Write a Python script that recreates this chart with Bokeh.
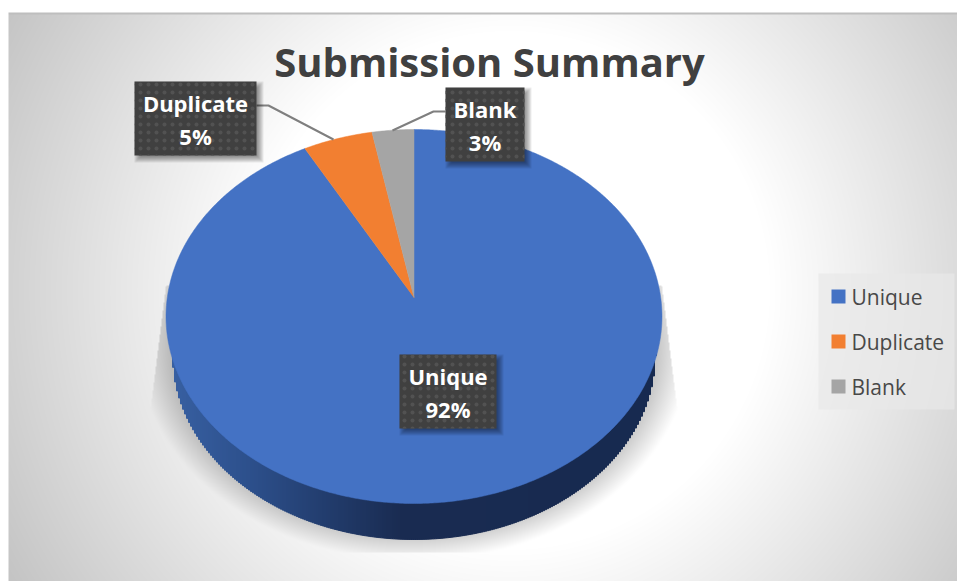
import numpy as np
from bokeh.embed import file_html
from bokeh.models import ColumnDataSource, Range1d
from bokeh.plotting import figure
from bokeh.resources import INLINE
from bokeh.core.properties import value

# Chart contents
title_text = "Submission Summary"
categories = ["Unique", "Duplicate", "Blank"]
shares = [92, 5, 3]
slice_colors = ["#4472c4", "#f27f31", "#a5a5a5"]

W, H = 957, 581
FONT = "Open Sans"

p = figure(width=W, height=H, x_range=Range1d(0, W), y_range=Range1d(H, 0),
           output_backend="svg", toolbar_location=None,
           x_axis_type=None, y_axis_type=None, min_border=0,
           outline_line_color=None, background_fill_color="white",
           border_fill_color="white")
p.grid.visible = False


def backdrop():
    """Radial grey panel with the soft shadow under the disc."""
    yy, xx = np.mgrid[0:H, 0:W]
    xx = xx + 0.5
    yy = yy + 0.5
    d = np.hypot(xx - 510, yy - 290)
    grey = 255 - np.clip(d - 260, 0, None) * 0.185

    # shadow: a soft ellipse cut by two slanted edges and a floor
    rho = np.hypot((xx - 413.5) / 276, (yy - 345) / 215)
    a = np.clip((1 - rho) / 0.12, 0, 1)
    left = 165 - (yy - 290) * 0.125
    right = 662 + (yy - 290) * 0.125
    a = np.where((xx < left) | (xx > right) | (yy < 285) | (yy > 552), 0, a)
    grey = grey * (1 - 0.22 * a)

    rgba = np.zeros((H, W, 4), dtype=np.uint8)
    g = np.clip(grey, 0, 255).astype(np.uint8)
    rgba[..., 0] = g
    rgba[..., 1] = g
    rgba[..., 2] = g
    rgba[..., 3] = 255
    rgba[:12, :] = [255, 255, 255, 255]
    rgba[:, :8] = [255, 255, 255, 255]
    rgba[12:14, 8:] = [190, 190, 190, 255]
    return rgba.view(dtype=np.uint32).reshape(H, W)


p.image_rgba(image=[backdrop()], x=0, y=0, dw=W, dh=H)

# Disc geometry: a circle seen in perspective
CX, APEX_Y = 413.5, 297.0
K = 0.1016
A, B = 246.7, 185.07


def rim(theta):
    """Screen position of a rim point; theta runs clockwise from 12 o'clock."""
    u, v = np.sin(theta), np.cos(theta)
    w = 1 + K * v
    return CX + A * u / w, APEX_Y - B * v / w


# Side wall, drawn as pixel-aligned columns shaded from left to right
WALL_Y, WALL_RX, WALL_RY = 355.0, 241.0, 184.0
wall_x = np.arange(172.0, 656.0, 2.0)
wall_mid = wall_x + 1.0
wall_y = WALL_Y + WALL_RY * np.sqrt(np.clip(1 - ((wall_mid - CX) / WALL_RX) ** 2, 0, 1))
stops_x = [172, 250, 330, 400, 655]
stops_r = [0x38, 0x2d, 0x22, 0x1a, 0x17]
stops_g = [0x60, 0x50, 0x3c, 0x2c, 0x2a]
stops_b = [0xa2, 0x8c, 0x6c, 0x52, 0x50]
wall_colors = ["#%02x%02x%02x" % (int(np.interp(x, stops_x, stops_r)),
                                  int(np.interp(x, stops_x, stops_g)),
                                  int(np.interp(x, stops_x, stops_b))) for x in wall_mid]
p.quad(left=wall_x, right=wall_x + 2.0, top=np.full_like(wall_x, 316.0), bottom=wall_y,
       fill_color=wall_colors, line_color=wall_colors, line_width=1)

# Slices, clockwise from the top
fractions = np.array(shares, dtype=float) / sum(shares)
edges = np.concatenate([[0], np.cumsum(fractions)]) * 2 * np.pi
slice_xs, slice_ys = [], []
for a0, a1 in zip(edges[:-1], edges[1:]):
    t = np.linspace(a0, a1, max(8, int((a1 - a0) * 120)))
    x, y = rim(t)
    slice_xs.append(np.concatenate([[CX], x]))
    slice_ys.append(np.concatenate([[APEX_Y], y]))
p.patches(slice_xs, slice_ys, fill_color=slice_colors, line_color=slice_colors, line_width=0.5)

# Leader lines
p.line([256, 268, 333], [105, 105, 139], line_color="#7f7f7f", line_width=2)
p.line([445, 433, 392], [111, 111, 130], line_color="#7f7f7f", line_width=2)

# Callout boxes, in category order
box_left = [399, 134, 445]
box_right = [496, 256, 524]
box_top = [354, 81, 87]
box_bottom = [428, 155, 161]
for i in range(7):
    grow = 1.0 * i
    p.quad(left=[v + 6 - grow for v in box_left], right=[v + 1 + grow for v in box_right],
           top=[v + 6 - grow for v in box_top], bottom=[v + 1 + grow for v in box_bottom],
           fill_color="#000000", fill_alpha=0.07, line_color=None)
p.quad(left=box_left, right=box_right, top=box_top, bottom=box_bottom,
       fill_color="#404040", line_color=None,
       hatch_pattern="dot", hatch_color="#525252", hatch_scale=8, hatch_weight=1)

labels = ColumnDataSource(dict(
    x=[(l + r) / 2 for l, r in zip(box_left, box_right)],
    name_y=[t + 21 for t in box_top],
    pct_y=[t + 54 for t in box_top],
    name=categories,
    pct=[f"{s}%" for s in shares],
))
for col, ycol in (("name", "name_y"), ("pct", "pct_y")):
    p.text(x="x", y=ycol, text=col, source=labels, text_color="white",
           text_font=value(FONT), text_font_style="bold", text_font_size="22px",
           text_align="center", text_baseline="middle")

# Title
p.text(x=[489], y=[61], text=[title_text], text_color="#404040",
       text_font=value(FONT), text_font_style="bold", text_font_size="40px",
       text_align="center", text_baseline="middle")

# Legend
p.quad(left=[818], right=[954], top=[273], bottom=[409],
       fill_color="#e8e8e8", fill_alpha=0.7, line_color=None)
leg_y = [296, 341, 386]
p.quad(left=[831] * 3, right=[845] * 3, top=[y - 7 for y in leg_y], bottom=[y + 7 for y in leg_y],
       fill_color=slice_colors, line_color=None)
p.text(x=[851] * 3, y=leg_y, text=categories, text_color="#484848",
       text_font=value(FONT), text_font_size="21px", text_align="left", text_baseline="middle")

open("out.html", "w").write(file_html(p, INLINE))
